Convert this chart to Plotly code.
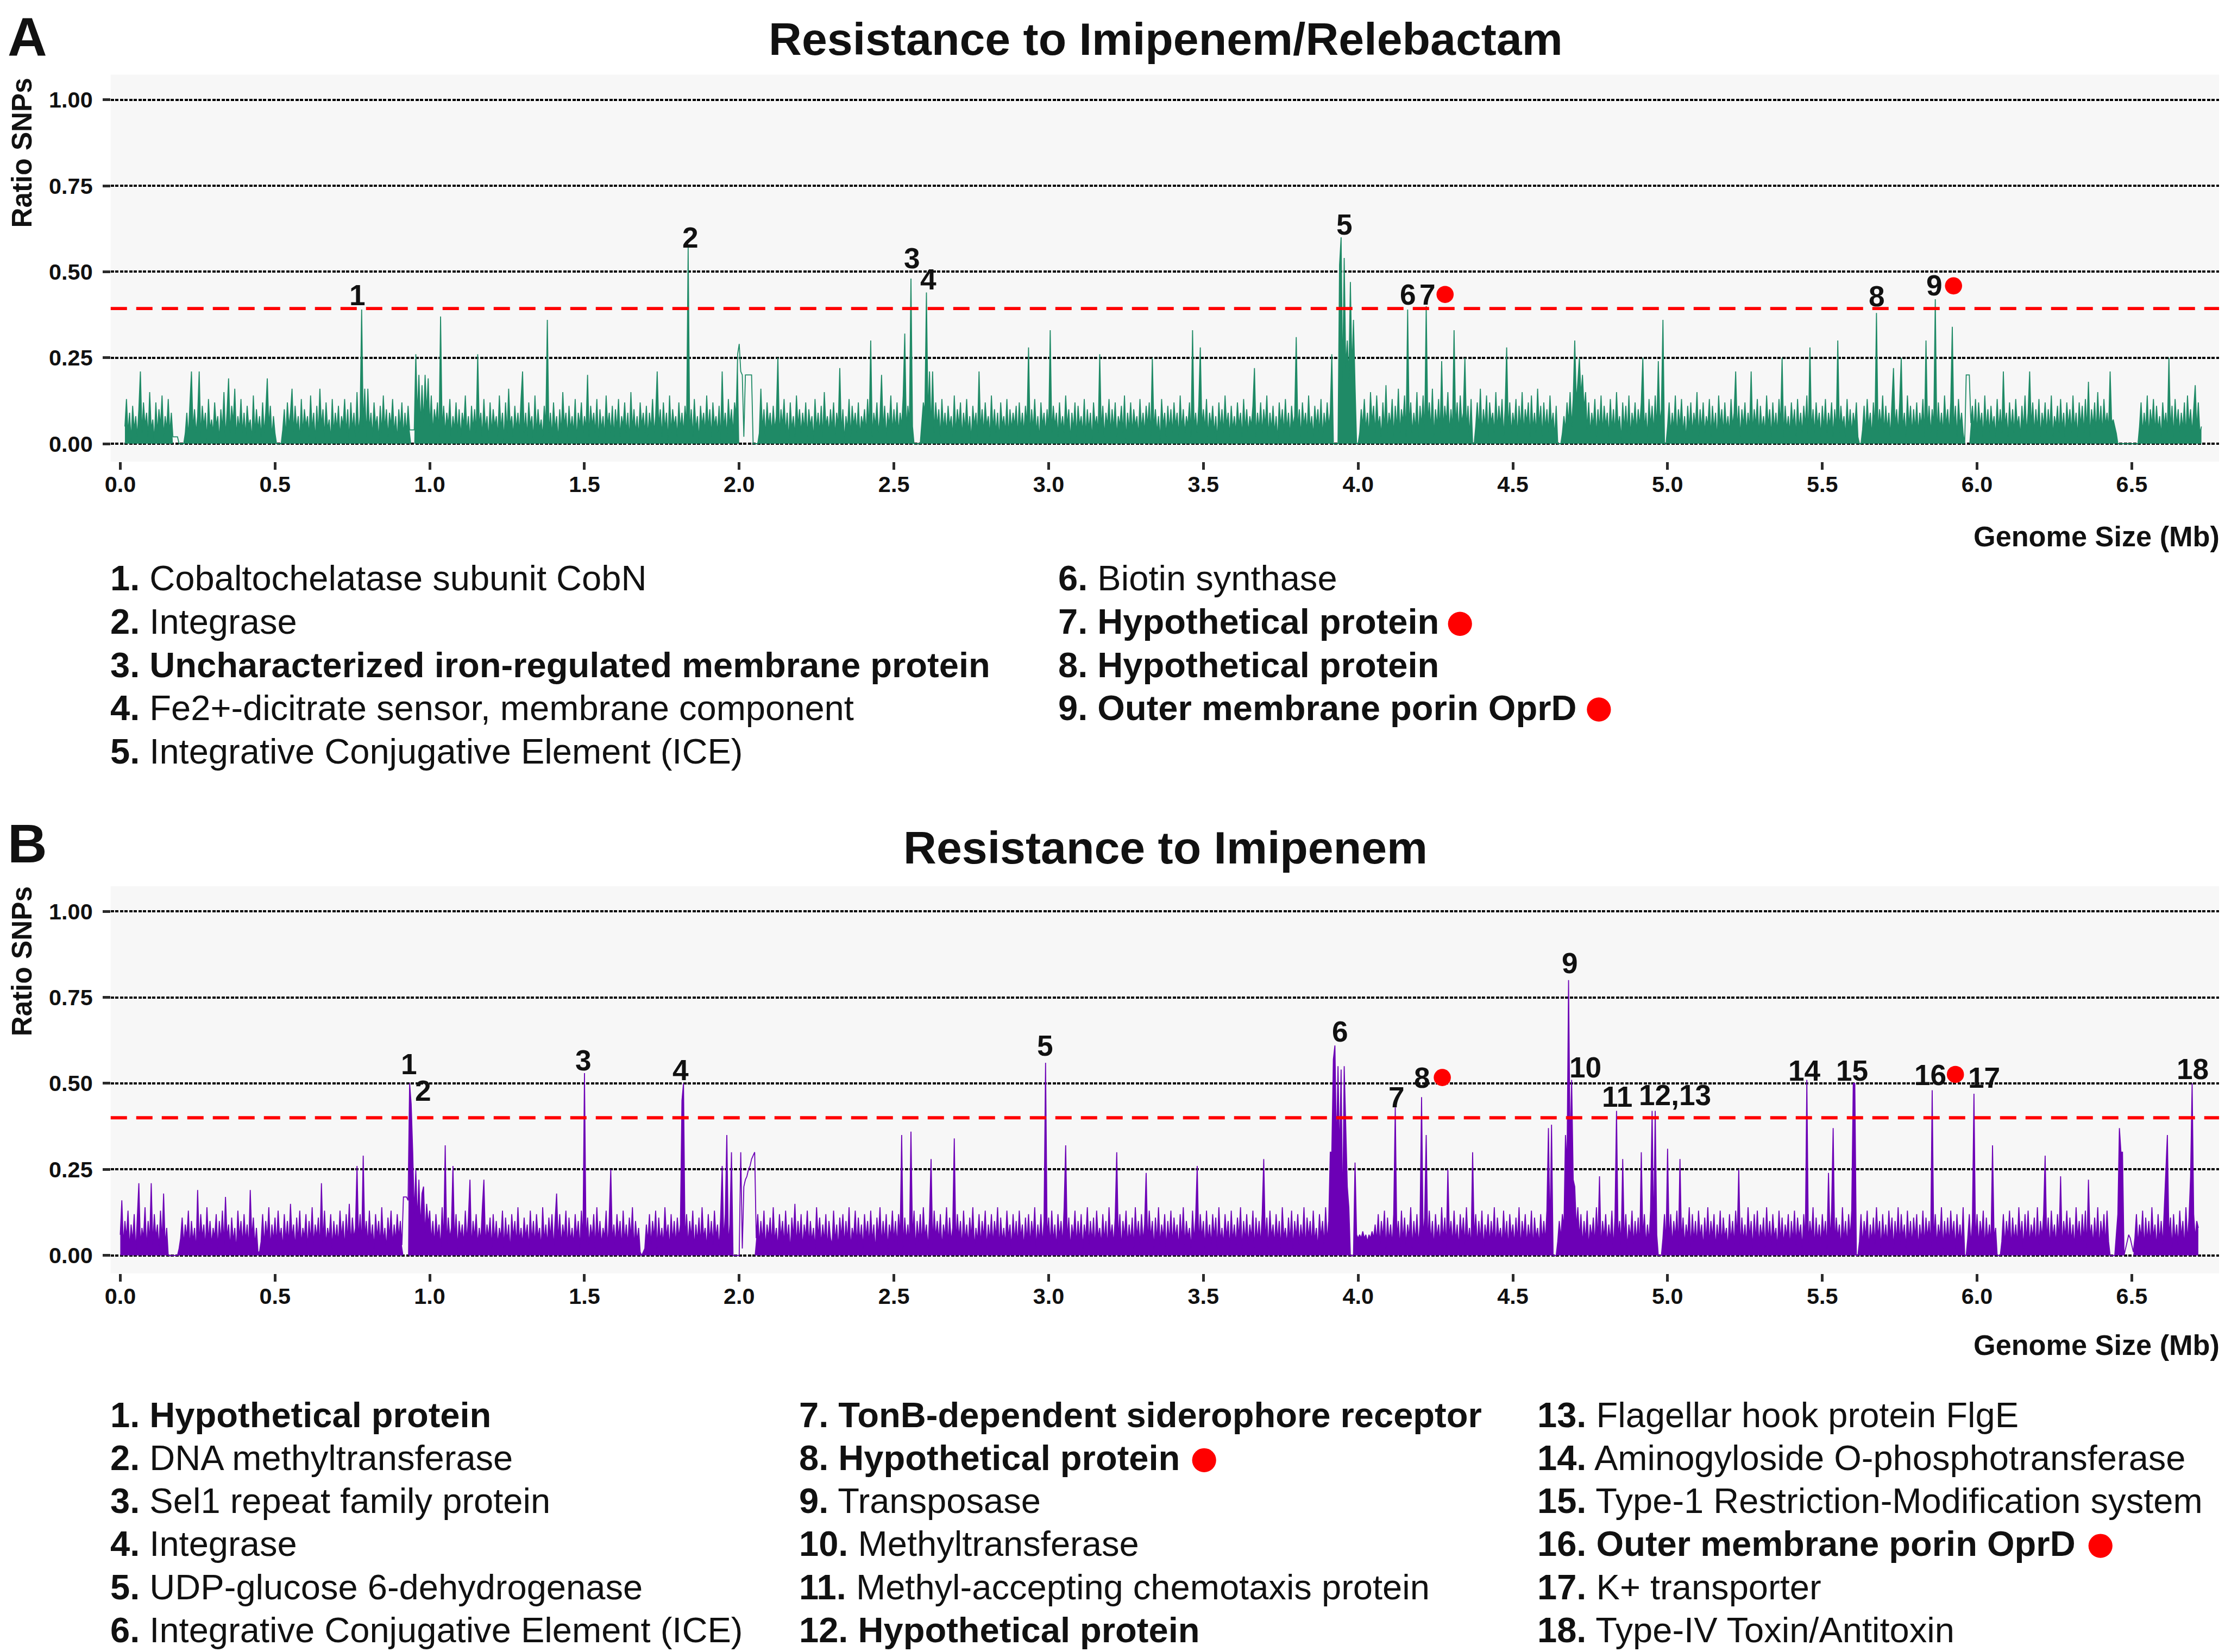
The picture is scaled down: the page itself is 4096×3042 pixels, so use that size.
import plotly.graph_objects as go

N = None

# ---------------- SNP ratio (%) per 5-kb window, panel A (Imipenem/Relebactam) ----------------
A_00 = [N,N,N,5,13,3,9,1,11,4,8,2,10,21,3,12,5,9,2,15,
        4,7,1,12,3,10,5,14,2,8,4,13,3,9,2,2,2,2,0,0,
        0,0,3,9,2,12,21,4,10,3,8,21,2,11,5,9,1,13,4,7,
        3,12,5,8,1,10,4,15,2,9,19,3,11,6,16,2,8,4,13,3,
        9,2,11,5,7,1,14,3,10,4,8,2,12,3,9,19,5,11,2,8]
A_05 = [3,0,0,0,0,4,10,2,12,5,9,16,3,11,4,8,1,13,3,10,
        5,8,2,14,4,9,1,11,3,16,5,10,2,12,4,7,1,13,3,9,
        4,11,2,8,5,13,3,10,1,12,4,9,2,15,3,8,39,5,16,2,
        16,4,9,2,12,5,8,1,11,3,14,4,10,2,9,5,13,3,8,1,
        10,4,12,2,9,3,11,4,4,4,4,26,8,20,5,17,6,20,9,19]
A_10 = [5,14,3,10,6,12,2,37,4,11,3,9,5,13,2,8,4,12,3,10,
        2,9,5,14,3,8,1,11,4,10,3,26,5,9,2,13,4,8,1,12,
        3,10,5,8,2,14,4,9,1,12,3,16,5,8,2,11,4,9,3,13,
        21,3,9,2,12,5,8,1,14,3,10,4,7,2,11,5,36,3,9,2,
        12,4,8,1,10,3,15,5,9,2,11,4,8,3,13,1,9,5,12,3]
A_15 = [8,4,20,2,11,5,9,3,13,1,10,4,8,2,14,5,9,3,11,2,
        10,4,13,2,8,5,12,3,9,1,15,4,10,3,8,2,12,5,9,3,
        11,2,9,4,13,3,8,21,5,10,2,12,4,9,1,14,3,10,5,8,
        2,12,4,9,3,11,5,57,3,10,2,13,4,8,1,11,5,9,3,14,
        4,10,2,12,5,8,3,11,1,21,4,9,2,13,5,10,3,12,8,26]
A_20 = [29,21,20,2,20,20,20,20,20,0,0,0,0,3,16,4,10,2,12,5,
        9,3,11,4,8,25,2,10,5,13,3,9,1,12,4,8,2,14,5,10,
        3,9,4,12,2,10,5,8,1,13,4,9,3,11,2,15,5,8,3,10,
        4,12,2,9,5,22,3,10,1,8,4,13,2,11,5,9,3,12,2,8,
        5,10,3,13,4,30,2,9,5,12,3,8,20,4,11,2,9,5,14,3]
A_25 = [10,4,12,3,9,5,14,32,4,11,6,48,5,0,0,0,0,0,6,12,
        9,44,8,21,4,21,3,12,5,10,2,13,4,9,3,11,5,8,2,14,
        3,10,5,12,2,9,4,13,3,8,1,11,5,9,2,21,4,10,3,12,
        5,8,2,14,4,10,3,9,1,12,5,8,3,13,2,10,4,9,5,11,
        2,12,4,9,3,11,5,28,2,10,4,13,3,8,1,12,5,9,3,10]
A_30 = [4,33,3,11,5,9,2,12,4,8,3,14,5,10,1,9,4,12,2,11,
        5,8,3,13,2,10,4,9,1,12,5,8,3,26,4,11,2,9,5,13,
        3,10,4,12,2,8,5,11,3,14,1,9,4,12,3,10,5,8,2,13,
        4,9,3,11,5,12,2,25,4,10,3,8,1,13,5,9,2,11,4,10,
        3,12,5,9,2,14,4,10,3,8,5,12,2,33,4,9,3,11,28,5]
A_35 = [10,4,13,2,9,5,11,3,8,1,12,4,10,3,14,5,9,2,11,4,
        8,3,12,5,9,2,13,4,10,3,8,5,11,22,2,9,4,12,3,10,
        5,14,2,9,4,11,3,8,1,12,5,10,3,13,4,9,2,11,5,8,
        31,4,10,2,12,5,9,3,14,4,8,2,11,5,10,3,13,2,9,4,
        12,5,9,26,0,0,0,0,52,60,18,54,22,30,19,47,21,36,17,0]
A_40 = [0,3,10,5,13,4,9,2,15,6,11,3,14,5,8,2,12,4,17,3,
        9,5,13,2,11,4,16,3,10,6,14,2,39,5,12,3,9,4,15,2,
        11,5,14,3,40,6,12,4,16,2,10,5,13,3,24,4,11,6,15,3,
        10,4,33,5,12,3,14,6,9,25,4,11,2,13,0,0,5,12,4,16,
        3,10,5,14,2,12,6,9,3,15,4,11,5,13,2,10,28,4,12,3]
A_45 = [9,5,13,2,11,4,15,3,10,6,12,2,14,4,9,3,16,5,11,2,
        12,4,10,3,14,5,9,2,11,0,0,0,3,8,4,12,6,15,5,13,
        30,12,18,25,14,20,10,15,4,12,3,9,5,13,2,10,4,14,3,11,
        5,9,2,13,4,10,3,15,5,8,1,12,4,11,3,14,2,9,5,12,
        3,10,5,12,25,4,9,2,13,5,11,3,14,4,24,6,10,36,0,0]
A_50 = [5,12,3,9,4,14,2,10,5,13,3,8,1,11,4,12,3,9,5,15,
        2,10,4,12,3,8,5,13,2,11,4,9,1,14,5,10,3,12,4,8,
        3,13,5,9,21,4,11,2,10,5,12,3,9,4,21,3,10,5,13,2,
        11,4,8,3,14,5,10,2,12,4,9,3,13,5,25,2,11,4,8,3,
        12,5,10,2,13,4,9,3,11,5,14,2,28,4,10,3,12,5,9,2]
A_55 = [11,4,13,3,9,5,12,2,10,4,30,3,11,5,8,2,13,4,10,3,
        9,5,12,2,0,0,4,11,3,13,5,9,2,12,4,38,3,10,5,14,
        3,11,4,9,2,13,22,5,10,3,12,25,4,9,2,14,5,11,3,10,
        4,12,3,9,5,13,2,30,4,11,3,10,5,42,2,12,4,9,3,14,
        5,10,3,12,34,4,11,2,13,5,9,3,0,20,20,20,6,11,4,13]
A_60 = [3,12,5,9,2,14,4,10,3,11,5,8,2,13,4,10,3,21,5,9,
        2,12,4,10,3,13,5,8,2,11,4,14,3,9,21,5,12,3,10,4,
        13,2,9,5,12,3,10,4,14,2,8,5,11,3,13,4,9,2,12,5,
        10,3,14,4,9,2,12,5,11,3,13,4,18,2,10,5,12,3,15,4,
        11,3,13,5,9,4,21,6,7,5,3,0,0,0,0,0,0,0,0,0]
A_65 = [0,0,0,0,0,5,12,3,9,4,14,2,10,5,13,3,11,4,8,2,
        12,5,9,3,25,4,11,2,13,5,10,3,9,4,12,2,14,5,10,3,
        11,17,4,12,3,5]

# ---------------- SNP ratio (%) per 5-kb window, panel B (Imipenem) ----------------
B_00 = [6,16,3,10,5,13,2,9,4,12,1,11,21,3,8,5,14,2,10,4,
        21,3,12,5,9,2,13,4,18,3,8,0,0,0,0,0,0,0,2,5,
        11,3,9,5,13,2,10,4,8,1,19,3,12,5,9,2,14,4,10,3,
        8,5,12,2,10,4,13,3,17,5,9,2,11,4,8,1,13,5,10,3,
        12,4,9,2,19,5,11,3,8,1,1,4,12,3,10,5,14,2,9,4]
B_05 = [11,3,13,5,8,2,12,4,10,3,15,5,9,2,11,4,13,3,8,5,
        12,2,10,4,14,3,9,5,11,2,21,4,13,3,8,5,12,2,10,4,
        9,3,13,5,10,2,12,4,15,3,11,5,8,26,4,12,3,29,5,10,
        3,13,4,9,2,12,5,10,3,14,4,8,2,11,5,13,3,9,4,12,
        5,10,3,17,17,17,16,50,44,30,12,25,10,22,8,18,20,6,15,9]
B_10 = [13,4,10,3,12,5,9,2,14,4,32,3,11,5,8,26,4,12,2,10,
        5,9,3,13,4,11,22,2,10,5,12,3,8,4,14,22,3,9,5,11,
        2,12,4,10,3,8,5,13,2,11,4,9,1,12,5,10,3,14,4,8,
        3,11,5,9,2,13,4,10,3,12,5,8,2,14,4,9,3,11,5,12,
        2,10,18,4,12,3,9,5,13,2,11,4,8,3,12,5,10,2,13,4]
B_15 = [53,4,11,3,9,5,12,2,14,4,10,3,8,5,13,2,11,25,4,9,
        3,12,5,10,2,13,4,9,3,11,5,14,2,10,4,8,1,0,1,2,
        9,4,12,3,10,5,13,2,11,4,8,3,14,5,9,2,12,4,10,3,
        11,5,9,45,50,4,12,3,10,5,13,2,9,4,11,3,14,5,8,2,
        12,4,10,3,13,5,9,2,11,26,4,12,35,3,9,30,0,0,0,0]
B_20 = [0,30,2,20,22,23,25,26,28,29,30,5,12,3,10,4,13,2,9,5,
        11,3,14,4,8,2,12,5,10,3,13,4,9,1,11,5,15,3,10,4,
        12,2,9,5,13,3,10,4,8,2,14,5,11,3,9,4,12,2,10,5,
        3,13,4,9,2,11,5,12,3,10,4,14,2,8,5,13,3,11,4,9,
        2,12,5,10,3,13,4,9,1,11,5,14,3,10,4,12,2,9,5,13]
B_25 = [4,10,3,12,5,35,2,11,4,9,3,36,5,13,2,10,4,12,3,14,
        5,9,2,11,28,3,13,5,10,4,12,2,9,5,14,3,11,4,8,34,
        3,12,5,10,2,13,4,9,3,11,5,14,2,8,4,12,3,10,5,13,
        2,9,4,12,3,10,5,14,2,11,4,8,3,13,5,9,2,12,4,10,
        3,13,5,9,2,11,4,12,3,10,5,14,2,9,4,12,3,10,56,5]
B_30 = [11,3,13,4,9,2,12,5,10,3,14,32,4,11,2,9,5,13,3,10,
        4,12,2,9,5,14,3,10,4,11,2,13,5,8,3,12,4,10,2,14,
        5,9,3,11,30,4,12,2,10,5,13,3,9,4,11,2,14,5,10,3,
        12,4,9,24,3,13,5,10,2,11,4,14,3,9,5,12,2,10,4,13,
        3,11,5,9,2,12,4,14,3,10,5,8,2,13,4,11,26,3,12,5]
B_35 = [10,2,13,4,9,3,12,5,11,2,14,4,8,3,12,5,10,2,13,4,
        9,3,11,5,14,2,10,4,12,3,9,5,13,2,11,4,10,3,12,28,
        4,11,2,13,5,9,3,12,4,10,2,14,5,8,3,11,4,13,2,10,
        5,12,3,9,4,14,2,11,5,10,3,13,4,8,2,12,5,10,3,14,
        4,10,30,30,57,61,30,55,28,54,10,55,37,20,14,0,0,0,27,6]
B_40 = [5,6,5,7,5,6,4,6,5,7,5,9,4,12,3,10,5,13,2,11,
        4,9,3,12,43,5,10,2,13,4,11,3,9,5,14,2,10,4,12,3,
        9,46,5,11,35,3,13,4,10,2,12,5,9,3,14,4,11,2,25,5,
        10,3,13,4,9,2,12,5,11,3,14,4,8,2,30,5,12,3,10,4,
        13,2,9,5,12,3,10,4,14,2,11,5,8,3,13,4,10,2,12,5]
B_45 = [9,3,11,4,14,2,10,5,12,3,9,4,13,2,11,5,8,3,12,4,
        10,4,13,37,6,38,0,0,0,4,10,5,12,8,35,26,80,30,51,22,
        20,8,14,5,12,3,10,4,13,2,9,5,11,3,14,4,23,2,10,5,
        12,3,9,4,13,2,11,42,5,10,3,28,4,12,2,9,5,13,3,10,
        4,11,2,30,5,12,3,9,4,13,42,5,42,6,0,0,0,5,12,3]
B_50 = [31,4,12,3,10,5,13,2,28,4,11,3,9,5,14,2,12,4,10,3,
        13,5,9,2,11,4,14,3,10,5,12,2,9,4,13,3,11,5,8,2,
        12,4,10,3,13,5,25,2,11,4,9,3,14,5,10,2,12,4,13,3,
        9,5,11,2,14,4,10,3,12,5,8,2,13,4,11,3,9,5,12,2,
        10,4,13,3,11,5,9,2,12,4,51,3,10,5,14,2,11,4,9,3]
B_55 = [12,5,10,2,24,4,13,37,3,11,5,9,2,14,4,10,3,12,5,13,
        50,50,0,0,4,12,3,10,5,13,2,9,4,11,3,14,5,10,2,12,
        4,9,3,13,5,11,2,10,4,14,3,12,5,9,2,13,4,10,3,11,
        5,12,2,9,4,13,3,11,5,10,2,48,4,12,3,9,5,14,2,10,
        4,11,3,13,5,10,2,12,4,9,3,14,0,0,5,12,3,10,47,4]
B_60 = [12,3,10,5,13,2,11,4,9,3,32,5,8,0,0,0,4,12,3,10,
        5,13,2,11,4,9,3,14,5,10,2,12,4,13,3,9,5,11,2,14,
        3,10,5,12,29,4,11,2,13,5,9,3,12,4,23,2,10,5,13,3,
        11,4,9,2,14,5,10,3,12,4,13,2,22,5,9,3,11,4,14,2,
        10,5,12,3,13,4,0,0,0,0,6,12,37,30,30,0,2,4,6,5]
B_65 = [3,1,5,12,3,9,5,13,2,11,4,10,3,14,5,9,2,12,4,10,
        3,13,23,35,5,11,2,12,4,9,3,13,5,10,2,14,4,11,23,50,
        12,5,10,8]

WINDOW_MB = 0.005
CHUNK_STARTS = [0.0, 0.5, 1.0, 1.5, 2.0, 2.5, 3.0, 3.5, 4.0, 4.5, 5.0, 5.5, 6.0, 6.5]
CHUNKS_A = [A_00, A_05, A_10, A_15, A_20, A_25, A_30, A_35, A_40, A_45, A_50, A_55, A_60, A_65]
CHUNKS_B = [B_00, B_05, B_10, B_15, B_20, B_25, B_30, B_35, B_40, B_45, B_50, B_55, B_60, B_65]

# stretches drawn only as a thin line (no dense band underneath)
LINE_ONLY_A = [(0.168, 0.187), (0.938, 0.952), (1.998, 2.062), (5.963, 5.977)]
LINE_ONLY_B = [(0.913, 0.932), (1.998, 2.052), (6.473, 6.507)]

THRESH_A = 0.393
THRESH_B = 0.400

# peak labels
LAB_A = ["1", "2", "3", "4", "5", "6", "7", "8", "9"]
LAB_A_X = [0.767, 1.843, 2.559, 2.612, 3.956, 4.162, 4.224, 5.676, 5.862]
LAB_A_Y = [0.432, 0.600, 0.540, 0.477, 0.637, 0.434, 0.434, 0.428, 0.461]
DOT_A_X = [4.281, 5.924]
DOT_A_Y = [0.434, 0.459]

LAB_B = ["1", "2", "3", "4", "5", "6", "7", "8", "9", "10", "11", "12,13",
         "14", "15", "16", "17", "18"]
LAB_B_X = [0.933, 0.978, 1.496, 1.811, 2.989, 3.941, 4.125, 4.207, 4.684, 4.734,
           4.837, 5.024, 5.442, 5.596, 5.849, 6.022, 6.697]
LAB_B_Y = [0.556, 0.478, 0.567, 0.539, 0.609, 0.651, 0.459, 0.516, 0.850, 0.546,
           0.461, 0.466, 0.537, 0.537, 0.524, 0.516, 0.541]
DOT_B_X = [4.272, 5.930]
DOT_B_Y = [0.517, 0.526]

# gene lists: (label, bold, red dot)
GENES_A = [("Cobaltochelatase subunit CobN", False, False),
           ("Integrase", False, False),
           ("Uncharacterized iron-regulated membrane protein", True, False),
           ("Fe2+-dicitrate sensor, membrane component", False, False),
           ("Integrative Conjugative Element (ICE)", False, False),
           ("Biotin synthase", False, False),
           ("Hypothetical protein", True, True),
           ("Hypothetical protein", True, False),
           ("Outer membrane porin OprD", True, True)]
GENES_B = [("Hypothetical protein", True, False),
           ("DNA methyltransferase", False, False),
           ("Sel1 repeat family protein", False, False),
           ("Integrase", False, False),
           ("UDP-glucose 6-dehydrogenase", False, False),
           ("Integrative Conjugative Element (ICE)", False, False),
           ("TonB-dependent siderophore receptor", True, False),
           ("Hypothetical protein", True, True),
           ("Transposase", False, False),
           ("Methyltransferase", False, False),
           ("Methyl-accepting chemotaxis protein", False, False),
           ("Hypothetical protein", True, False),
           ("Flagellar hook protein FlgE", False, False),
           ("Aminogyloside O-phosphotransferase", False, False),
           ("Type-1 Restriction-Modification system", False, False),
           ("Outer membrane porin OprD", True, True),
           ("K+ transporter", False, False),
           ("Type-IV Toxin/Antitoxin", False, False)]

X_TICKS = [0.0, 0.5, 1.0, 1.5, 2.0, 2.5, 3.0, 3.5, 4.0, 4.5, 5.0, 5.5, 6.0, 6.5]
Y_TICKS = [0.0, 0.25, 0.5, 0.75, 1.0]

# ---------------- styling / layout ----------------
W, H, S = 4096, 3042, 0.986
PAGE_MARGIN = 8  # default <body> margin of the html page
FONT = "Liberation Sans, Arial, Helvetica, sans-serif"
GREEN = "#1F8A66"
PURPLE = "#6C00B6"
RED = "#FF0000"
BG = "#F7F7F7"
INK = "#111111"


def px(v):
    return v * S


def fx(x):
    return (x * S - PAGE_MARGIN) / W


def fy(y):
    return 1 - (y * S - PAGE_MARGIN) / H


def build(chunks):
    xs, ys = [], []
    for start, vals in zip(CHUNK_STARTS, chunks):
        for i, v in enumerate(vals):
            xs.append(round(start + WINDOW_MB * i, 4))
            ys.append(None if v is None else v / 100.0)
    return xs, ys


def band(xs, ys, ranges):
    out = []
    for x, y in zip(xs, ys):
        if y is not None and any(a <= x <= b for a, b in ranges):
            out.append(0.0)
        else:
            out.append(y)
    return out


xA, yA = build(CHUNKS_A)
xB, yB = build(CHUNKS_B)

fig = go.Figure()
panels = [
    ("x", "y", xA, yA, LINE_ONLY_A, GREEN, DOT_A_X, DOT_A_Y),
    ("x2", "y2", xB, yB, LINE_ONLY_B, PURPLE, DOT_B_X, DOT_B_Y),
]
for xa, ya, xs, ys, rng, col, dx, dy in panels:
    fig.add_trace(go.Scatter(x=xs, y=band(xs, ys, rng), mode="lines", fill="tozeroy",
                             fillcolor=col, line=dict(width=0, color=col),
                             xaxis=xa, yaxis=ya, hoverinfo="skip", showlegend=False))
    fig.add_trace(go.Scatter(x=xs, y=ys, mode="lines", line=dict(width=1.8, color=col),
                             xaxis=xa, yaxis=ya, showlegend=False))
    fig.add_trace(go.Scatter(x=dx, y=dy, mode="markers",
                             marker=dict(color=RED, size=px(32), line=dict(width=0)),
                             xaxis=xa, yaxis=ya, showlegend=False))

tickfont = dict(family=FONT, size=px(42), color=INK, weight="bold")
xcommon = dict(range=[-0.031, 6.782], tickmode="array", tickvals=X_TICKS,
               ticktext=[f"{v:.1f}" for v in X_TICKS], ticks="outside",
               ticklen=px(14), tickwidth=px(5), tickcolor="#2b2b2b",
               tickfont=tickfont, ticklabelstandoff=-8,
               showgrid=False, zeroline=False, showline=False)
ycommon = dict(range=[-0.052, 1.073], tickmode="array", tickvals=Y_TICKS,
               ticktext=[f"{v:.2f}" for v in Y_TICKS], ticks="outside",
               ticklen=px(14), tickwidth=px(5), tickcolor="#2b2b2b",
               tickfont=tickfont, ticklabelstandoff=10,
               showgrid=True, gridcolor="#000000",
               gridwidth=3.8, griddash="6px,2.5px", zeroline=False, showline=False)

fig.update_layout(
    width=W, height=H, autosize=False,
    margin=dict(l=0, r=0, t=0, b=0),
    paper_bgcolor="white", plot_bgcolor=BG,
    showlegend=False,
    xaxis=dict(domain=[fx(196), fx(4143)], anchor="y", **xcommon),
    yaxis=dict(domain=[fy(862), fy(139.5)], anchor="x", **ycommon),
    xaxis2=dict(domain=[fx(196), fx(4143)], anchor="y2", **xcommon),
    yaxis2=dict(domain=[fy(2378), fy(1655)], anchor="x2", **ycommon),
)

shapes = []
for yref, thr in (("y", THRESH_A), ("y2", THRESH_B)):
    xref = "x domain" if yref == "y" else "x2 domain"
    shapes.append(dict(type="line", xref=xref, yref=yref, x0=0, x1=1, y0=thr, y1=thr,
                       line=dict(color=RED, width=px(6), dash="30px,17px"), layer="above"))

# red dots that follow the flagged gene names
LEGEND_DOTS = [(2722, 1165), (2982, 1325), (2243, 2727), (3921, 2887)]
DOT_R = 22.5
for cx, cy in LEGEND_DOTS:
    shapes.append(dict(type="circle", xref="paper", yref="paper",
                       x0=fx(cx - DOT_R), x1=fx(cx + DOT_R),
                       y0=fy(cy + DOT_R), y1=fy(cy - DOT_R),
                       fillcolor=RED, line=dict(width=0), layer="above"))
fig.update_layout(shapes=shapes)

ann = []


def text(x, y, t, size, xanchor="left", yanchor="middle", bold=False, angle=0):
    ann.append(dict(x=fx(x), y=fy(y), xref="paper", yref="paper", text=t, showarrow=False,
                    xanchor=xanchor, yanchor=yanchor, textangle=angle, align="left",
                    font=dict(family=FONT, size=px(size), color=INK,
                              weight="bold" if bold else "normal")))


# panel letters and titles
text(40, 10, "A", 102, xanchor="center", yanchor="top", bold=True)
text(40, 1516, "B", 102, xanchor="center", yanchor="top", bold=True)
text(2171, 73, "Resistance to Imipenem/Relebactam", 85.5, xanchor="center", bold=True)
text(2171, 1583, "Resistance to Imipenem", 85.5, xanchor="center", bold=True)

# axis titles
text(30, 144, "Ratio SNPs", 52, xanchor="center", yanchor="top", bold=True, angle=-90)
text(30, 1654, "Ratio SNPs", 52, xanchor="center", yanchor="top", bold=True, angle=-90)
text(4146, 1002, "Genome Size (Mb)", 53, xanchor="right", bold=True)
text(4146, 2512, "Genome Size (Mb)", 53, xanchor="right", bold=True)

# peak labels
for labs, lx, ly, xr, yr in ((LAB_A, LAB_A_X, LAB_A_Y, "x", "y"),
                             (LAB_B, LAB_B_X, LAB_B_Y, "x2", "y2")):
    for t, x, y in zip(labs, lx, ly):
        ann.append(dict(x=x, y=y, xref=xr, yref=yr, text=t, showarrow=False,
                        xanchor="center", yanchor="middle",
                        font=dict(family=FONT, size=px(54), color=INK, weight="bold")))


def gene_line(num, label, bold):
    return f"<b>{num}.</b> " + (f"<b>{label}</b>" if bold else label)


# gene lists
LEG_SHIFT = -12
colsA = [(205, 0, 5), (1980, 5, 9)]
for cx, i0, i1 in colsA:
    for r, i in enumerate(range(i0, i1)):
        lab, b, d = GENES_A[i]
        text(cx + LEG_SHIFT, 1080 + 80.7 * r, gene_line(i + 1, lab, b), 66)
colsB = [(205, 0, 6), (1495, 6, 12), (2877, 12, 18)]
for cx, i0, i1 in colsB:
    for r, i in enumerate(range(i0, i1)):
        lab, b, d = GENES_B[i]
        text(cx + LEG_SHIFT, 2642 + 80.4 * r, gene_line(i + 1, lab, b), 66)

fig.update_layout(annotations=ann)
fig.write_html("out.html")
